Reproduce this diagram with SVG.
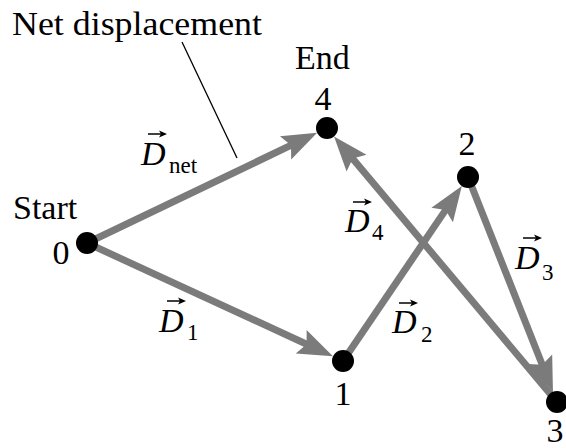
<svg xmlns="http://www.w3.org/2000/svg" width="566" height="448" viewBox="0 0 566 448">
  <style>
    .lbl { font-family: "Liberation Serif", "Times New Roman", serif; font-size: 34px; fill: #000; }
    .vec { font-family: "Liberation Serif", "Times New Roman", serif; font-size: 34px; font-style: italic; fill: #000; }
    .sub { font-family: "Liberation Serif", "Times New Roman", serif; font-size: 23px; fill: #000; }
    .dot { fill: #000; }
    .shaft { stroke: #7b7b7b; stroke-width: 7; fill: none; marker-end: url(#ah); }
    .over { stroke: #000; stroke-width: 1.5; fill: none; marker-end: url(#sh); }
  </style>
  <defs>
    <marker id="ah" markerUnits="userSpaceOnUse" viewBox="-20 -15 45 30" refX="0" refY="0" markerWidth="45" markerHeight="30" orient="auto" overflow="visible">
      <path d="M20,0 L-15,-13 L-9,0 L-15,13 Z" fill="#7b7b7b"/>
    </marker>
    <marker id="sh" markerUnits="userSpaceOnUse" viewBox="-6 -4 10 8" refX="0" refY="0" markerWidth="10" markerHeight="8" orient="auto" overflow="visible">
      <path d="M3,0 L-5,-3.5 L-3,0 L-5,3.5 Z" fill="#000"/>
    </marker>
  </defs>
  <rect width="566" height="448" fill="#fff"/>

  <g id="connectors">
    <line class="shaft" x1="87" y1="243" x2="299.1" y2="141.4"/>
    <line class="shaft" x1="87" y1="243" x2="314.8" y2="348.0"/>
    <line class="shaft" x1="343" y1="361" x2="450.6" y2="202.6"/>
    <line class="shaft" x1="468" y1="177" x2="545.6" y2="373.2"/>
    <line class="shaft" x1="557" y1="402" x2="346.9" y2="151.7"/>
    <line x1="182" y1="42" x2="237" y2="158" stroke="#000" stroke-width="1.3"/>

    <g id="label-Dnet">
      <line class="over" x1="148" y1="134" x2="164" y2="134"/>
      <text class="vec" x="141" y="165">D</text>
      <text class="sub" x="169" y="173">net</text>
    </g>
    <g id="label-D1">
      <line class="over" x1="167" y1="301" x2="183" y2="301"/>
      <text class="vec" x="159" y="332">D</text>
      <text class="sub" x="187" y="340">1</text>
    </g>
    <g id="label-D2">
      <line class="over" x1="399" y1="303" x2="415" y2="303"/>
      <text class="vec" x="392" y="333">D</text>
      <text class="sub" x="421" y="342">2</text>
    </g>
    <g id="label-D3">
      <line class="over" x1="523" y1="238" x2="539" y2="238"/>
      <text class="vec" x="515" y="269">D</text>
      <text class="sub" x="542" y="280">3</text>
    </g>
    <g id="label-D4">
      <line class="over" x1="353" y1="202" x2="369" y2="202"/>
      <text class="vec" x="345" y="232">D</text>
      <text class="sub" x="372" y="240">4</text>
    </g>
  </g>

  <g id="title">
    <text class="lbl" x="12" y="35" textLength="250" lengthAdjust="spacingAndGlyphs">Net displacement</text>
  </g>

  <g id="node0">
    <circle class="dot" cx="87" cy="243" r="11"/>
    <text class="lbl" x="13" y="219">Start</text>
    <text class="lbl" x="61" y="264" text-anchor="middle">0</text>
  </g>
  <g id="node1">
    <circle class="dot" cx="343" cy="361" r="11"/>
    <text class="lbl" x="343" y="405" text-anchor="middle">1</text>
  </g>
  <g id="node2">
    <circle class="dot" cx="468" cy="177" r="11"/>
    <text class="lbl" x="467" y="155" text-anchor="middle">2</text>
  </g>
  <g id="node3">
    <circle class="dot" cx="557" cy="402" r="11"/>
    <text class="lbl" x="555" y="442" text-anchor="middle">3</text>
  </g>
  <g id="node4">
    <circle class="dot" cx="327" cy="128" r="11"/>
    <text class="lbl" x="323" y="110" text-anchor="middle">4</text>
    <text class="lbl" x="295" y="69">End</text>
  </g>
</svg>
